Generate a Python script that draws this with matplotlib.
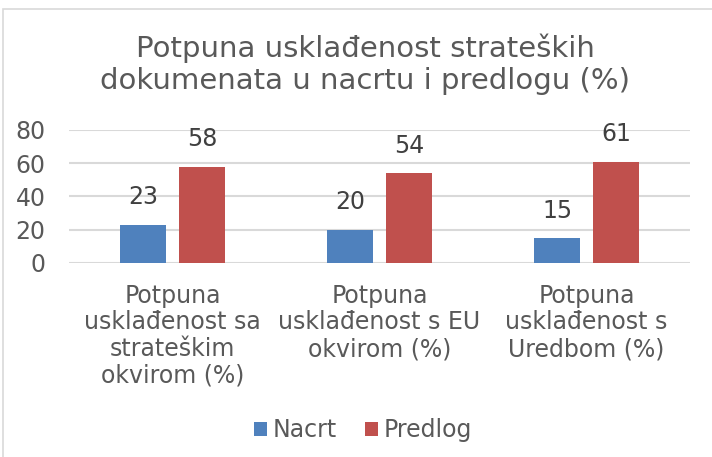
import matplotlib.pyplot as plt
import numpy as np
from matplotlib.patches import Rectangle

categories = ["Potpuna\nusklađenost sa\nstrateškim\nokvirom (%)",
              "Potpuna\nusklađenost s EU\nokvirom (%)",
              "Potpuna\nusklađenost s\nUredbom (%)"]
nacrt = [23, 20, 15]
predlog = [58, 54, 61]
series_names = ["Nacrt", "Predlog"]

W, H = 712, 457
txt = "#595959"
fig = plt.figure(figsize=(W / 100, H / 100), dpi=100)

# light border like the exported chart area
fig.patches.append(Rectangle((3 / W, -0.1), 1.2, 1 - 9 / H + 0.1, transform=fig.transFigure,
                             fill=False, edgecolor="#d9d9d9", lw=1.2))

ax = fig.add_axes([69 / W, 1 - 263 / H, 621 / W, 133 / H])
x = np.arange(len(categories))
bw = 0.227
off = (bw + 0.058) / 2
b1 = ax.bar(x - off, nacrt, bw, color="#4f81bd", label=series_names[0], zorder=3)
b2 = ax.bar(x + off, predlog, bw, color="#c0504d", label=series_names[1], zorder=3)
for bars in (b1, b2):
    ax.bar_label(bars, padding=11, fontsize=17, color="#404040")

ax.set_xlim(-0.5, 2.5)
ax.set_ylim(0, 80)
ax.set_yticks([0, 20, 40, 60, 80])
ax.grid(axis="y", color="#d9d9d9", lw=1.5, zorder=0)
for s in ax.spines.values():
    s.set_visible(False)
ax.tick_params(axis="y", length=0, labelsize=17, labelcolor=txt, pad=17)
ax.set_xticks(x)
ax.set_xticklabels(categories, fontsize=17, color=txt, linespacing=1.14)
ax.tick_params(axis="x", length=0, pad=15)

fig.text(365 / W, 1 - 64 / H, "Potpuna usklađenost strateških\ndokumenata u nacrtu i predlogu (%)",
         ha="center", va="center", fontsize=21, color=txt, linespacing=1.16)

fig.legend(loc="center", bbox_to_anchor=(363 / W, 1 - 430 / H), ncol=2, frameon=False,
           fontsize=17, labelcolor=txt, handlelength=0.55, handleheight=0.55,
           handletextpad=0.25, columnspacing=1.18)

fig.savefig("out.png", dpi=100, facecolor="white")
